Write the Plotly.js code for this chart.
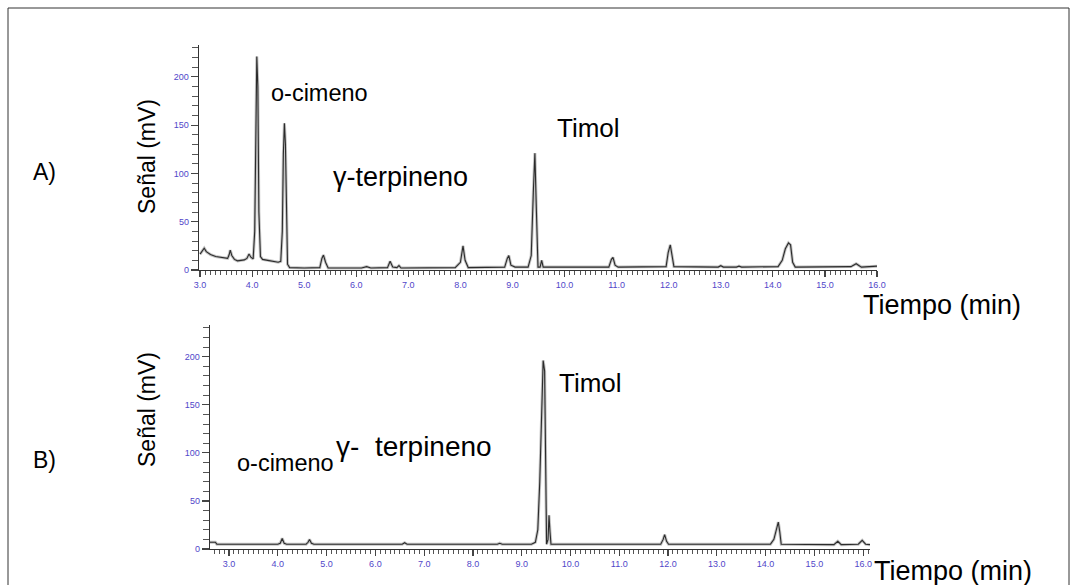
<!DOCTYPE html>
<html>
<head>
<meta charset="utf-8">
<script src="https://cdn.plot.ly/plotly-3.0.1.min.js"></script>
<style>
html,body{margin:0;padding:0;background:#fff;}
#chart{width:1077px;height:585px;}
</style>
</head>
<body>
<div id="chart"></div>
<script>
// ---- Data ----
// A) chromatogram: time (min) and signal (mV)
const timeA = [3.0,3.05,3.08,3.12,3.2,3.3,3.45,3.53,3.56,3.58,3.61,3.66,3.72,3.85,3.9,3.94,3.98,4.02,4.05,4.07,4.09,4.11,4.13,4.16,4.2,4.3,4.4,4.5,4.55,4.58,4.6,4.62,4.64,4.66,4.68,4.72,5.0,5.3,5.34,5.37,5.41,5.46,6.1,6.2,6.28,6.6,6.65,6.7,6.78,6.82,6.86,7.9,8.0,8.05,8.09,8.15,8.85,8.9,8.93,8.97,9.05,9.3,9.36,9.4,9.43,9.46,9.49,9.53,9.56,9.59,10.85,10.9,10.93,10.97,11.03,11.95,11.99,12.03,12.06,12.1,12.95,13.0,13.05,13.3,13.35,13.4,14.1,14.18,14.24,14.3,14.34,14.38,14.43,15.5,15.6,15.7,16.0];
const signalA = [16.5,20,22.5,19,16,14,12.5,12,16,20.5,15,11,9.5,10.5,12,16.5,13,11.5,40,150,221,190,60,14,11,10,9,8,9,40,120,152,130,40,6,2.5,2,2.5,12,15.5,8,2,2,3.5,2,2.5,9,3,2.5,4.5,2,2.5,8,25,10,2.5,3,12,15,5,3,3,15,80,121,60,3,3,10,3,3,11,13,5,3,3.5,18,26,18,3.5,3,4.5,3,3,4,3,3.5,10,22,28,26,8,3,3.5,6.5,3,4];

// B) chromatogram: time (min) and signal (mV)
const timeB = [2.61,2.72,2.75,3.5,4.0,4.05,4.09,4.13,4.18,4.58,4.62,4.65,4.69,4.74,6.55,6.6,6.65,8.5,8.55,8.6,9.2,9.28,9.33,9.37,9.41,9.44,9.47,9.49,9.51,9.54,9.56,9.58,9.6,11.85,11.9,11.93,11.97,12.01,14.1,14.17,14.22,14.26,14.29,14.32,15.4,15.48,15.55,15.9,15.98,16.05,16.14];
const signalB = [7,7,5,5,5,6,11,6,5,5,7,10,6,5,5,6.5,5,5,6,5,5,7,20,70,160,196,185,60,5,10,35,18,5,5,10,15,8,5,5,10,22,28,18,5,4.5,8,4.5,5,9,5,4.5];

// Axis ticks
const xTickStep = 1.0;
const yTickStep = 50;
const panelLabels = ["A)", "B)"];
const yTitle = "Señal (mV)";
const xTitle = "Tiempo (min)";

const W = 1077, H = 585;
const px = x => x / W;
const py = y => 1 - y / H;

const lineColor = "#2b2b2b";
const haloColor = "#c4c4c4";
const tickLabelColor = "#5146c9";
const txtFont = {family: "Liberation Sans, Arial, sans-serif", size: 26, color: "#000"};

const traces = [
  {x: timeA, y: signalA, xaxis: "x", yaxis: "y", mode: "lines", line: {color: haloColor, width: 3}, hoverinfo: "skip", showlegend: false},
  {x: timeA, y: signalA, xaxis: "x", yaxis: "y", mode: "lines", line: {color: lineColor, width: 1.1}, showlegend: false},
  {x: timeB, y: signalB, xaxis: "x2", yaxis: "y2", mode: "lines", line: {color: haloColor, width: 3}, hoverinfo: "skip", showlegend: false},
  {x: timeB, y: signalB, xaxis: "x2", yaxis: "y2", mode: "lines", line: {color: lineColor, width: 1.1}, showlegend: false}
];

function xAxis(domain, range, anchor) {
  return {
    domain: domain, range: range, anchor: anchor,
    showline: true, linecolor: "#333", linewidth: 1.3,
    showgrid: false, zeroline: false,
    ticks: "outside", ticklen: 6, tickwidth: 1.2, tickcolor: "#444",
    dtick: xTickStep, tick0: 0, tickformat: ".1f",
    tickfont: {family: "Liberation Sans, Arial, sans-serif", size: 9, color: tickLabelColor},
    minor: {dtick: 0.1, tick0: 0, ticks: "outside", ticklen: 3.5, tickcolor: "#555", tickwidth: 1, showgrid: false}
  };
}
function yAxis(domain, range, anchor) {
  return {
    domain: domain, range: range, anchor: anchor,
    showline: true, linecolor: "#333", linewidth: 1.3,
    showgrid: false, zeroline: false,
    ticks: "outside", ticklen: 7, tickwidth: 1.2, tickcolor: "#444",
    dtick: yTickStep, tick0: 0,
    tickfont: {family: "Liberation Sans, Arial, sans-serif", size: 9, color: tickLabelColor},
    minor: {dtick: 10, tick0: 0, ticks: "outside", ticklen: 6, tickcolor: "#555", tickwidth: 1, showgrid: false}
  };
}

function label(text, x, y, size, angle) {
  const a = {text: text, xref: "paper", yref: "paper", x: px(x), y: py(y),
    xanchor: angle ? "center" : "left", yanchor: "middle", showarrow: false,
    font: Object.assign({}, txtFont, size ? {size: size} : {})};
  if (angle) a.textangle = angle;
  return a;
}

const layout = {
  width: W, height: H,
  margin: {l: 0, r: 0, t: 0, b: 0},
  paper_bgcolor: "#fff", plot_bgcolor: "rgba(0,0,0,0)",
  showlegend: false,
  xaxis: xAxis([px(199), px(877)], [2.98, 16.0], "y"),
  yaxis: yAxis([py(270), py(45)], [0, 233], "x"),
  xaxis2: xAxis([px(210), px(870)], [2.61, 16.14], "y2"),
  yaxis2: yAxis([py(549), py(325)], [0, 233], "x2"),
  shapes: [
    {type: "rect", xref: "paper", yref: "paper", x0: px(8), x1: px(1069), y0: py(600), y1: py(8), line: {color: "#333", width: 1}, fillcolor: "rgba(0,0,0,0)"}
  ],
  annotations: [
    label(panelLabels[0], 31, 172, 23),
    label(panelLabels[1], 31, 460, 23),
    label(yTitle, 147, 157, 23, -90),
    label(yTitle, 147, 410, 23, -90),
    label("o-cimeno", 269, 93, 23.5),
    label("γ-terpineno", 331, 177, 27),
    label("Timol", 555, 128),
    label(xTitle, 861, 305, 27),
    label("Timol", 557, 383),
    label("o-cimeno", 235, 463, 23.5),
    label("γ-\u00a0\u00a0terpineno", 334, 447, 28),
    label(xTitle, 872, 571, 27)
  ]
};

Plotly.newPlot("chart", traces, layout, {displayModeBar: false, staticPlot: true});
</script>
</body>
</html>
